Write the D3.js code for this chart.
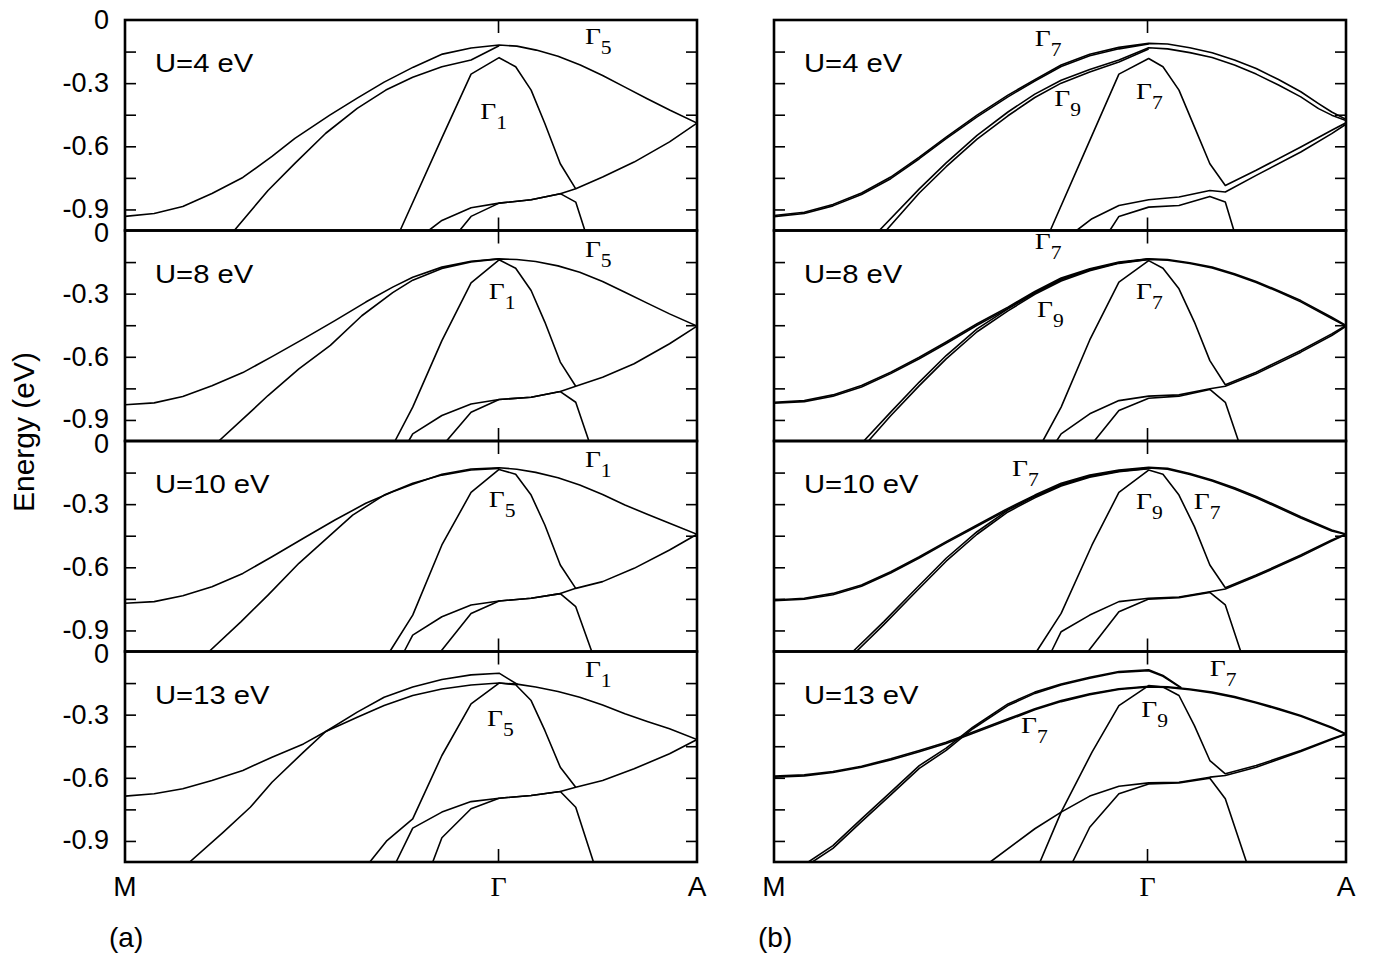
<!DOCTYPE html>
<html><head><meta charset="utf-8">
<script src="https://cdn.jsdelivr.net/npm/d3@7"></script>
<style>body{margin:0;background:#fff}svg{display:block}</style>
</head><body><svg id="c" width="1375" height="958"></svg>
<script>
// ---------- data (k: M=0 .. Γ .. A=1, E in eV) ----------
const kTicks = [0, 0.653, 1];
const kLabels = ["M", "Γ", "A"];
const eTicks = [0, -0.3, -0.6, -0.9];
const eMinorTicks = [-0.15, -0.3, -0.45, -0.6, -0.75, -0.9];
const uValues = [4, 8, 10, 13];
const colLabels = ["(a)", "(b)"];

// (a) U=4
const a4_1 = [[0,-.933],[.051,-.919],[.101,-.886],[.152,-.824],[.206,-.748],[.257,-.648],[.297,-.562],[.358,-.452],[.406,-.371],[.453,-.295],[.504,-.224],[.555,-.162],[.605,-.133],[.654,-.119],[.685,-.124],[.719,-.143],[.757,-.172],[.796,-.214],[.835,-.264],[.874,-.319],[.913,-.374],[.953,-.429],[1,-.490]];
const a4_2 = [[.191,-1],[.250,-.810],[.297,-.681],[.351,-.538],[.406,-.420],[.456,-.333],[.503,-.272],[.554,-.222],[.605,-.190],[.654,-.122]];
const a4_3 = [[.481,-1],[.554,-.56],[.605,-.257],[.654,-.179],[.683,-.222],[.710,-.333],[.734,-.492],[.761,-.683],[.788,-.802]];
const a4_4 = [[.531,-1],[.554,-.952],[.605,-.892],[.654,-.870],[.710,-.854],[.761,-.825],[.788,-.802],[.835,-.746],[.890,-.675],[.952,-.579],[1,-.490]];
const a4_5 = [[.585,-1],[.605,-.933],[.654,-.870],[.710,-.854],[.761,-.825],[.788,-.865],[.804,-1]];
// (a) U=8
const a8_1 = [[0,-.828],[.051,-.819],[.101,-.789],[.152,-.738],[.206,-.675],[.257,-.599],[.312,-.515],[.367,-.428],[.421,-.340],[.468,-.269],[.503,-.222],[.554,-.174],[.605,-.146],[.654,-.135],[.685,-.138],[.718,-.147],[.757,-.168],[.795,-.198],[.835,-.242],[.874,-.293],[.913,-.345],[.952,-.396],[1,-.454]];
const a8_2 = [[.164,-1],[.219,-.863],[.250,-.784],[.304,-.657],[.359,-.546],[.414,-.405],[.468,-.295],[.503,-.236],[.554,-.180],[.605,-.149],[.654,-.135]];
const a8_3 = [[.472,-1],[.503,-.839],[.554,-.523],[.605,-.249],[.654,-.139],[.683,-.179],[.710,-.285],[.734,-.435],[.761,-.625],[.788,-.740]];
const a8_4 = [[.496,-1],[.503,-.966],[.554,-.879],[.605,-.824],[.654,-.803],[.710,-.792],[.761,-.765],[.788,-.740],[.835,-.697],[.890,-.633],[.952,-.538],[1,-.454]];
const a8_5 = [[.562,-1],[.605,-.863],[.654,-.803],[.710,-.792],[.761,-.765],[.788,-.816],[.811,-1]];
// (a) U=10
const a10_1 = [[0,-.771],[.051,-.763],[.101,-.735],[.152,-.692],[.206,-.629],[.257,-.550],[.312,-.462],[.367,-.375],[.421,-.296],[.468,-.241],[.503,-.206],[.554,-.158],[.605,-.133],[.654,-.127],[.685,-.134],[.718,-.149],[.757,-.175],[.795,-.209],[.835,-.254],[.874,-.304],[.913,-.348],[.952,-.391],[1,-.443]];
const a10_2 = [[.147,-1],[.203,-.858],[.250,-.732],[.304,-.581],[.359,-.447],[.398,-.352],[.453,-.257],[.503,-.201],[.554,-.162],[.605,-.138],[.654,-.130]];
const a10_3 = [[.463,-1],[.503,-.827],[.554,-.494],[.605,-.244],[.654,-.135],[.683,-.158],[.710,-.257],[.734,-.399],[.761,-.589],[.788,-.700]];
const a10_4 = [[.488,-1],[.503,-.922],[.554,-.835],[.605,-.779],[.654,-.760],[.710,-.747],[.761,-.725],[.788,-.700],[.835,-.668],[.890,-.605],[.952,-.518],[1,-.443]];
const a10_5 = [[.552,-1],[.605,-.819],[.654,-.760],[.710,-.747],[.761,-.725],[.788,-.787],[.816,-1]];
// (a) U=13
const a13_1 = [[0,-.687],[.051,-.676],[.101,-.652],[.152,-.613],[.206,-.565],[.257,-.502],[.312,-.439],[.351,-.380],[.406,-.312],[.453,-.257],[.503,-.209],[.554,-.178],[.605,-.159],[.654,-.150],[.685,-.155],[.718,-.169],[.757,-.190],[.795,-.217],[.835,-.254],[.874,-.296],[.913,-.332],[.952,-.367],[1,-.418]];
const a13_2 = [[.113,-1],[.172,-.858],[.219,-.740],[.257,-.621],[.312,-.478],[.351,-.380],[.406,-.288],[.453,-.217],[.503,-.169],[.554,-.133],[.605,-.111],[.654,-.103],[.687,-.158]];
const a13_3 = [[.428,-1],[.457,-.901],[.503,-.795],[.554,-.494],[.605,-.249],[.654,-.150],[.683,-.158],[.710,-.233],[.734,-.375],[.761,-.550],[.788,-.645]];
const a13_4 = [[.474,-1],[.503,-.839],[.554,-.763],[.605,-.713],[.654,-.697],[.710,-.684],[.761,-.665],[.788,-.645],[.835,-.613],[.890,-.557],[.952,-.486],[1,-.418]];
const a13_5 = [[.538,-1],[.554,-.885],[.605,-.747],[.654,-.697],[.710,-.684],[.761,-.665],[.788,-.740],[.819,-1]];

// (b) U=4
const b4_A1 = [[0,-.929],[.053,-.913],[.103,-.876],[.153,-.822],[.204,-.746],[.254,-.651],[.301,-.556],[.355,-.452],[.409,-.357],[.456,-.283],[.502,-.214],[.552,-.163],[.603,-.130],[.655,-.111],[.688,-.114],[.727,-.132],[.766,-.156],[.805,-.190],[.843,-.230],[.882,-.283],[.921,-.341],[.952,-.397],[.975,-.437],[1,-.472]];
const b4_A2 = [[0,-.934],[.053,-.919],[.103,-.883],[.153,-.829],[.204,-.754],[.254,-.659],[.301,-.564],[.355,-.460],[.409,-.365],[.456,-.290],[.502,-.221],[.552,-.170],[.603,-.137],[.655,-.114]];
const b4_B1 = [[.184,-1],[.254,-.802],[.301,-.679],[.355,-.548],[.409,-.437],[.456,-.352],[.502,-.286],[.552,-.235],[.603,-.190],[.655,-.132],[.688,-.137],[.727,-.155],[.766,-.178],[.805,-.214],[.843,-.257],[.882,-.309],[.921,-.365],[.952,-.421],[.975,-.452],[1,-.478]];
const b4_B2 = [[.196,-1],[.254,-.822],[.301,-.697],[.355,-.566],[.409,-.455],[.456,-.368],[.502,-.300],[.552,-.247],[.603,-.200],[.655,-.138]];
const b4_C = [[.483,-1],[.541,-.641],[.603,-.257],[.655,-.183],[.680,-.222],[.708,-.333],[.735,-.508],[.762,-.683],[.789,-.786],[.843,-.714],[.921,-.603],[.975,-.524],[1,-.488]];
const b4_D = [[.529,-1],[.556,-.944],[.603,-.881],[.655,-.854],[.708,-.841],[.762,-.810],[.789,-.817],[.843,-.738],[.921,-.627],[.975,-.540],[1,-.495]];
const b4_E = [[.587,-1],[.603,-.933],[.655,-.889],[.708,-.881],[.762,-.838],[.789,-.865],[.804,-1]];
// (b) U=8
const b8_A1 = [[0,-.816],[.053,-.808],[.103,-.781],[.153,-.736],[.204,-.673],[.254,-.602],[.301,-.530],[.355,-.443],[.409,-.364],[.456,-.290],[.502,-.226],[.552,-.182],[.603,-.150],[.655,-.135],[.688,-.138],[.727,-.153],[.766,-.174],[.805,-.205],[.843,-.242],[.882,-.286],[.921,-.333],[.975,-.412],[1,-.451]];
const b8_A2 = [[0,-.820],[.053,-.813],[.103,-.787],[.153,-.743],[.204,-.680],[.254,-.609],[.301,-.537],[.355,-.450],[.409,-.370],[.456,-.296],[.502,-.231],[.552,-.186],[.603,-.153],[.655,-.137],[.688,-.141],[.727,-.157],[.766,-.178],[.805,-.210],[.843,-.247],[.882,-.291],[.921,-.339],[.975,-.418],[1,-.454]];
const b8_B1 = [[.157,-1],[.204,-.863],[.254,-.720],[.301,-.594],[.355,-.467],[.409,-.372],[.456,-.296],[.502,-.234],[.552,-.187],[.603,-.153],[.655,-.135]];
const b8_B2 = [[.165,-1],[.204,-.880],[.254,-.737],[.301,-.610],[.355,-.481],[.409,-.382],[.456,-.303],[.502,-.240],[.552,-.191],[.603,-.156],[.655,-.137]];
const b8_C = [[.470,-1],[.502,-.839],[.552,-.520],[.603,-.245],[.655,-.143],[.680,-.179],[.708,-.277],[.735,-.435],[.762,-.618],[.789,-.733],[.843,-.673],[.921,-.570],[.975,-.491],[1,-.451]];
const b8_D = [[.494,-1],[.502,-.966],[.552,-.871],[.603,-.808],[.655,-.787],[.708,-.781],[.762,-.752],[.789,-.740],[.843,-.681],[.921,-.578],[.975,-.499],[1,-.455]];
const b8_E = [[.560,-1],[.603,-.855],[.655,-.797],[.708,-.787],[.762,-.755],[.789,-.816],[.812,-1]];
// (b) U=10
const b10_A1 = [[0,-.755],[.053,-.747],[.103,-.724],[.153,-.684],[.204,-.621],[.254,-.550],[.301,-.478],[.355,-.399],[.409,-.320],[.456,-.257],[.502,-.201],[.552,-.162],[.603,-.138],[.655,-.125],[.688,-.130],[.727,-.154],[.766,-.185],[.805,-.222],[.843,-.264],[.882,-.311],[.921,-.360],[.975,-.423],[1,-.442]];
const b10_A2 = [[0,-.759],[.053,-.752],[.103,-.730],[.153,-.690],[.204,-.627],[.254,-.556],[.301,-.484],[.355,-.405],[.409,-.326],[.456,-.262],[.502,-.206],[.552,-.166],[.603,-.141],[.655,-.128],[.688,-.134],[.727,-.159],[.766,-.190],[.805,-.228],[.843,-.270],[.882,-.317],[.921,-.366],[.975,-.428],[1,-.444]];
const b10_B1 = [[.138,-1],[.192,-.858],[.246,-.708],[.301,-.557],[.355,-.431],[.409,-.328],[.456,-.264],[.502,-.209],[.552,-.168],[.603,-.143],[.655,-.130]];
const b10_B2 = [[.144,-1],[.192,-.872],[.246,-.722],[.301,-.571],[.355,-.443],[.409,-.337],[.456,-.270],[.502,-.214],[.552,-.172],[.603,-.146],[.655,-.132]];
const b10_C = [[.459,-1],[.502,-.819],[.556,-.494],[.603,-.244],[.655,-.138],[.680,-.158],[.708,-.257],[.735,-.407],[.762,-.589],[.789,-.697],[.843,-.637],[.921,-.542],[.975,-.470],[1,-.442]];
const b10_D = [[.485,-1],[.502,-.906],[.552,-.827],[.603,-.763],[.655,-.747],[.708,-.741],[.762,-.716],[.789,-.703],[.843,-.643],[.921,-.548],[.975,-.475],[1,-.443]];
const b10_E = [[.549,-1],[.603,-.811],[.655,-.751],[.708,-.744],[.762,-.719],[.789,-.779],[.816,-1]];
// (b) U=13
const b13_A1 = [[0,-.592],[.053,-.586],[.103,-.570],[.153,-.545],[.204,-.510],[.254,-.470],[.301,-.431],[.355,-.375],[.409,-.320],[.456,-.272],[.502,-.233],[.552,-.201],[.603,-.177],[.655,-.165],[.688,-.168],[.727,-.178],[.766,-.193],[.805,-.214],[.843,-.241],[.882,-.271],[.921,-.304],[.975,-.360],[1,-.391]];
const b13_A2 = [[0,-.597],[.053,-.591],[.103,-.575],[.153,-.550],[.204,-.515],[.254,-.476],[.301,-.437],[.355,-.381],[.409,-.326],[.456,-.277],[.502,-.238],[.552,-.205],[.603,-.180],[.655,-.168],[.688,-.171],[.727,-.182],[.766,-.197],[.805,-.218],[.843,-.245],[.882,-.275],[.921,-.308],[.975,-.363],[1,-.393]];
const b13_B1 = [[.060,-1],[.103,-.922],[.153,-.795],[.204,-.668],[.254,-.542],[.301,-.459],[.347,-.361],[.409,-.249],[.456,-.193],[.502,-.154],[.552,-.122],[.603,-.095],[.655,-.087],[.680,-.114],[.712,-.172]];
const b13_B2 = [[.067,-1],[.103,-.935],[.153,-.808],[.204,-.681],[.254,-.555],[.301,-.470],[.347,-.368],[.409,-.257],[.456,-.199],[.502,-.159],[.552,-.127],[.603,-.099],[.655,-.091],[.680,-.118],[.712,-.174]];
const b13_C = [[.465,-1],[.502,-.763],[.556,-.478],[.603,-.257],[.655,-.162],[.680,-.169],[.708,-.209],[.735,-.352],[.762,-.518],[.789,-.581],[.843,-.542],[.921,-.470],[.975,-.415],[1,-.391]];
const b13_D = [[.378,-1],[.456,-.842],[.502,-.763],[.552,-.687],[.603,-.640],[.655,-.624],[.708,-.621],[.762,-.597],[.789,-.589],[.843,-.550],[.921,-.475],[.975,-.418],[1,-.393]];
const b13_E = [[.522,-1],[.552,-.835],[.603,-.676],[.655,-.629],[.708,-.624],[.762,-.602],[.789,-.700],[.826,-1]];

// symmetry labels: [k, E (baseline), subscript]
const labA4 = [[.804,-.112,"5"],[.621,-.470,"1"]];
const labA8 = [[.804,-.125,"5"],[.636,-.325,"1"]];
const labA10 = [[.804,-.122,"1"],[.636,-.313,"5"]];
const labA13 = [[.804,-.120,"1"],[.633,-.354,"5"]];
const labB4 = [[.456,-.122,"7"],[.490,-.408,"9"],[.633,-.375,"7"]];
const labB8 = [[.456,-.087,"7"],[.633,-.325,"7"],[.460,-.411,"9"]];
const labB10 = [[.416,-.165,"7"],[.633,-.323,"9"],[.734,-.323,"7"]];
const labB13 = [[.762,-.115,"7"],[.642,-.311,"9"],[.432,-.385,"7"]];

const bandsA = [[a4_1,a4_2,a4_3,a4_4,a4_5],[a8_1,a8_2,a8_3,a8_4,a8_5],[a10_1,a10_2,a10_3,a10_4,a10_5],[a13_1,a13_2,a13_3,a13_4,a13_5]];
const bandsB = [[b4_A1,b4_A2,b4_B1,b4_B2,b4_C,b4_D,b4_E],[b8_A1,b8_A2,b8_B1,b8_B2,b8_C,b8_D,b8_E],[b10_A1,b10_A2,b10_B1,b10_B2,b10_C,b10_D,b10_E],[b13_A1,b13_A2,b13_B1,b13_B2,b13_C,b13_D,b13_E]];
const labelsA = [labA4,labA8,labA10,labA13];
const labelsB = [labB4,labB8,labB10,labB13];

// ---------- drawing ----------
const svg = d3.select("#c");
const W = 572, H = 210.5, TOP = 20;
const lefts = [125, 774];
const sans = "Liberation Sans, Arial, sans-serif";
const serif = "Liberation Serif, Times New Roman, serif";
const cols = [{bands: bandsA, labels: labelsA}, {bands: bandsB, labels: labelsB}];

cols.forEach((col, ci) => {
  const x = d3.scaleLinear().domain([0, 1]).range([lefts[ci], lefts[ci] + W]);
  uValues.forEach((u, ri) => {
    const top = TOP + ri * H;
    const y = d3.scaleLinear().domain([-1, 0]).range([top + H, top]);
    const g = svg.append("g");
    const cid = `clip${ci}${ri}`;
    svg.append("clipPath").attr("id", cid).append("rect")
      .attr("x", x(0)).attr("y", y(0)).attr("width", W).attr("height", H);
    const line = d3.line().x(d => x(d[0])).y(d => y(d[1]));
    g.append("g").attr("clip-path", `url(#${cid})`)
      .selectAll("path").data(col.bands[ri]).join("path")
      .attr("d", line).attr("fill", "none").attr("stroke", "#000")
      .attr("stroke-width", 1.6).attr("stroke-linejoin", "round");
    // inward ticks on both sides
    const la = d3.axisLeft(y).tickValues(eMinorTicks).tickSize(-11).tickFormat("");
    const lg = g.append("g").attr("transform", `translate(${x(0)},0)`).call(la);
    const ra = d3.axisRight(y).tickValues(eMinorTicks).tickSize(-11).tickFormat("");
    const rg = g.append("g").attr("transform", `translate(${x(1)},0)`).call(ra);
    [lg, rg].forEach(a => { a.select(".domain").remove(); a.selectAll("line").attr("stroke-width", 1.6); });
    if (ci === 0) {
      const lab = d3.axisLeft(y).tickValues(eTicks).tickSize(0).tickPadding(16)
        .tickFormat(d => d === 0 ? "0" : d.toFixed(1));
      const lb = g.append("g").attr("transform", `translate(${x(0)},0)`).call(lab);
      lb.select(".domain").remove();
      lb.selectAll("text").attr("font-family", sans).attr("font-size", 27).attr("fill", "#000")
        .attr("dy", d => d === 0 && ri > 0 ? "0.42em" : (d === -0.9 ? "0.28em" : "0.32em"));
    }
    // Γ ticks top & bottom
    const kg = x(kTicks[1]);
    g.append("line").attr("x1", kg).attr("x2", kg).attr("y1", y(0)).attr("y2", y(0) + 13).attr("stroke", "#000").attr("stroke-width", 1.6);
    g.append("line").attr("x1", kg).attr("x2", kg).attr("y1", y(-1)).attr("y2", y(-1) - 13).attr("stroke", "#000").attr("stroke-width", 1.6);
    // frame
    g.append("rect").attr("x", x(0)).attr("y", y(0)).attr("width", W).attr("height", H)
      .attr("fill", "none").attr("stroke", "#000").attr("stroke-width", 2.6);
    // U label
    g.append("text").attr("transform", `translate(${x(0) + 30},${y(0) + 52}) scale(1.17,1)`)
      .attr("font-family", sans).attr("font-size", 25).text(`U=${u} eV`);
    // symmetry labels
    col.labels[ri].forEach(l => {
      const t = g.append("text").attr("transform", `translate(${x(l[0])},${y(l[1])}) scale(1.2,1)`)
        .attr("font-family", serif).attr("font-size", 23);
      t.append("tspan").text("Γ");
      t.append("tspan").attr("dy", 10).attr("font-size", 18).text(l[2]);
    });
    if (ri === uValues.length - 1) {
      kTicks.forEach((k, i) => {
        svg.append("text").attr("x", x(k)).attr("y", y(-1) + 34).attr("text-anchor", "middle")
          .attr("font-family", i === 1 ? serif : sans).attr("font-size", 28).text(kLabels[i]);
      });
      svg.append("text").attr("x", x(0) - 16).attr("y", y(-1) + 85)
        .attr("font-family", sans).attr("font-size", 28).text(colLabels[ci]);
    }
  });
});
svg.append("text").attr("transform", "translate(34,432) rotate(-90)").attr("text-anchor", "middle")
  .attr("font-family", sans).attr("font-size", 30).text("Energy (eV)");
</script></body></html>
